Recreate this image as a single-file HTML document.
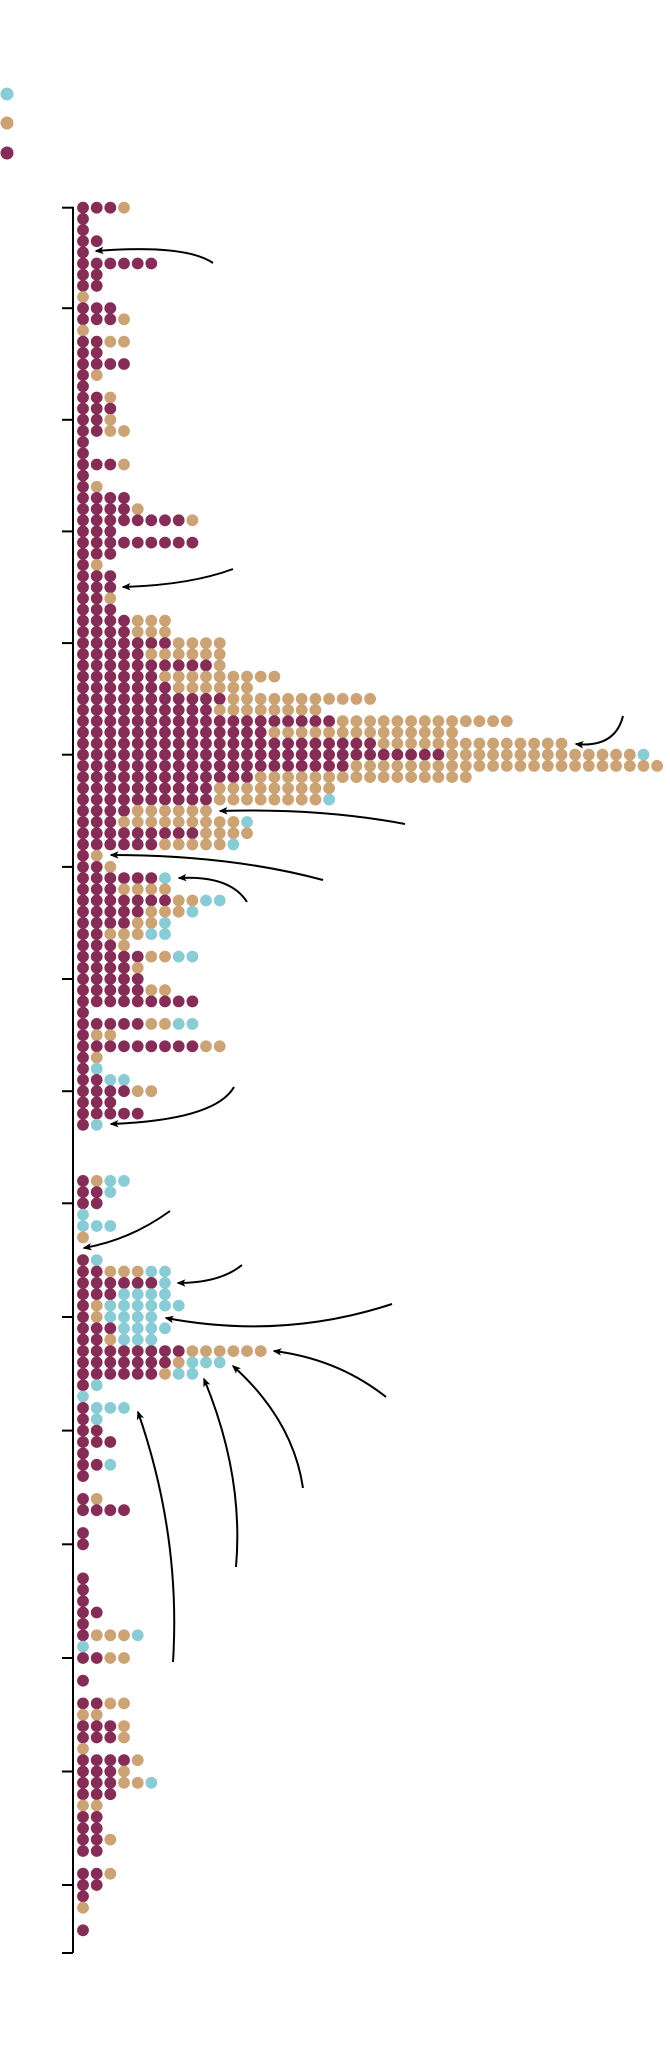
<!DOCTYPE html>
<html><head><meta charset="utf-8">
<style>
html,body{margin:0;padding:0;background:#fff;}
svg{display:block;}
</style></head>
<body>
<svg id="s" width="670" height="2068" viewBox="0 0 670 2068" xmlns="http://www.w3.org/2000/svg">
<defs>
<marker id="ah" viewBox="0 0 12 10" refX="10" refY="5" markerWidth="9" markerHeight="8" markerUnits="userSpaceOnUse" orient="auto">
<path d="M0,0 L12,5 L0,10 L3,5 z" fill="#000"/>
</marker>
</defs>
<circle cx="7" cy="94" r="6.5" fill="#89ccd5"/>
<circle cx="7" cy="123" r="6.5" fill="#cba374"/>
<circle cx="7" cy="153" r="6.5" fill="#852c57"/>
<g id="axis" stroke="#000" stroke-width="2" fill="none"></g>
<g id="dots"></g>
<g stroke="#000" stroke-width="2" fill="none" marker-end="url(#ah)">
<path d="M213,263 Q185,244 96,251"/>
<path d="M233,569 Q190,585 123,587"/>
<path d="M623,716 Q615,748 576,744"/>
<path d="M405,824 Q320,808 220,811"/>
<path d="M323,880 Q230,855 111,855"/>
<path d="M247,902 Q230,875 179,878"/>
<path d="M234,1087 Q215,1120 111,1124"/>
<path d="M170,1211 Q130,1240 84,1248"/>
<path d="M242,1265 Q220,1283 178,1283"/>
<path d="M392,1304 Q282,1340 166,1318"/>
<path d="M386,1397 Q338,1359 274,1351"/>
<path d="M303,1488 Q293,1420 233,1366"/>
<path d="M236,1567 Q244,1475 204,1379"/>
<path d="M173,1662 Q181,1536 138,1412"/>
</g>
</svg>
<script>
var rows=["3M1T","1M","1M","2M","1M","6M","2M","2M","1T","3M",
"3M1T","1T","2M2T","2M","4M","1M1T","1M","2M1T","3M","2M1T",
"2M2T","1M","1M","3M1T","1M","1M1T","4M","4M1T","8M1T","3M",
"9M","3M","1M1T","3M","3M","2M1T","3M","4M3T","4M3T","7M4T",
"5M6T","10M1T","6M9T","7M6T","11M11T","10M8T","19M13T","14M14T","22M14T","27M14T1B",
"20M23T","13M16T","10M9T","10M8T1B","4M6T","3M9T1B","9M4T","6M5T1B","1M1T","2M1T",
"6M1B","3M4T","7M2T2B","5M3T1B","4M2T1B","2M3T2B","3M1T","5M2T2B","4M1T","5M",
"5M2T","9M","1M","5M2T2B","1M2T","9M2T","1M1T","1M1B","2M2B","4M2T",
"3M","5M","1M1B","","","","","1M1T2B","2M1B","2M",
"1B","3B","1T","","1M1B","2M3T2B","6M1B","3M4B","1M1T6B","1M1T4B",
"3M4B","2M1T3B","8M6T","7M1T3B","6M1T2B","1M1B","1B","1M3B","1M1B","2M",
"3M","1M","2M1B","1M","","1M1T","4M","","1M","1M",
"","","1M","1M","1M","2M","1M","1M3T1B","1B","2M2T",
"","1M","","2M2T","2T","3M1T","3M1T","1T","4M1T","3M1T",
"3M2T1B","3M","2T","2M","2M","2M1T","2M","","2M1T","2M",
"1M","1T","","1M"];
var A=[[0,207.7],[49,754.7],[89,1203.3],[129,1658],[149,1885],[155,1953]];
function Y(k){for(var i=0;i<A.length-1;i++){if(k<=A[i+1][0]){var a=A[i],b=A[i+1];return a[1]+(k-a[0])*(b[1]-a[1])/(b[0]-a[0]);}}return 1953;}
var C={M:"#852c57",T:"#cba374",B:"#89ccd5"};
var g=document.getElementById("dots"),h="";
rows.forEach(function(r,k){var y=Y(k),x=0,re=/(\d+)([MTB])/g,m;
while((m=re.exec(r))){for(var j=0;j<+m[1];j++){h+='<circle cx="'+(83+13.67*x).toFixed(1)+'" cy="'+y.toFixed(1)+'" r="5.9" fill="'+C[m[2]]+'"/>';x++;}}});
g.innerHTML=h;
var ax=document.getElementById("axis"),a='<line x1="73" y1="206.7" x2="73" y2="1953"/>';
var t=[0];for(var k=9;k<=149;k+=10)t.push(k);
t.forEach(function(k){var y=Y(k).toFixed(1);a+='<line x1="62" y1="'+y+'" x2="73" y2="'+y+'"/>';});
a+='<line x1="62" y1="1953" x2="73" y2="1953"/>';
ax.innerHTML=a;
</script>
</body></html>
